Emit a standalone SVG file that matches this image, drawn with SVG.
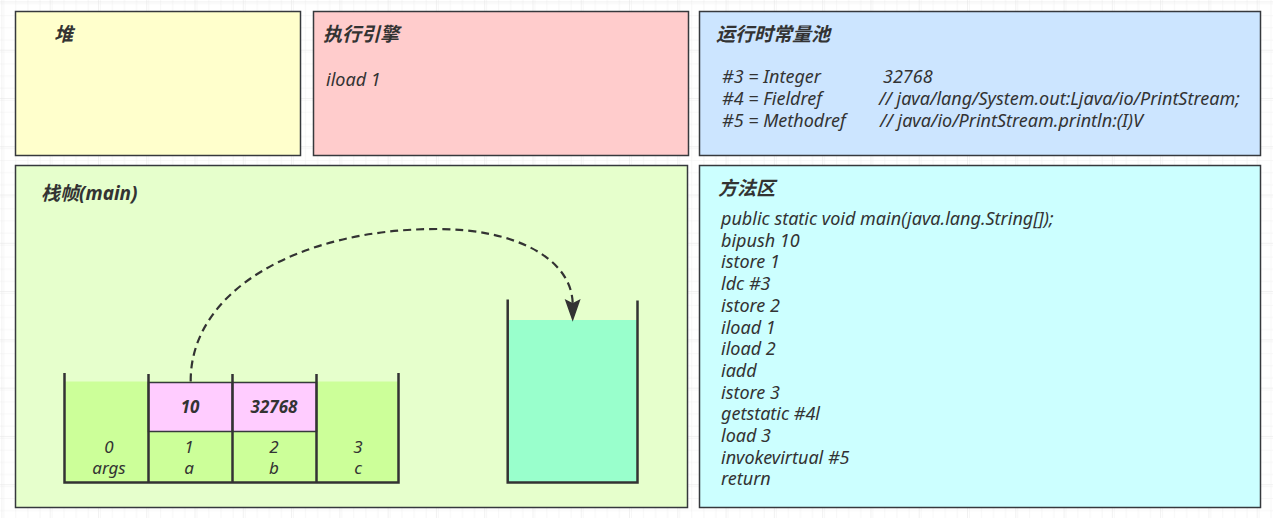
<svg xmlns="http://www.w3.org/2000/svg" width="1273" height="518" viewBox="0 0 1273 518">
<defs>
<pattern id="gMinor" patternUnits="userSpaceOnUse" x="1.9" y="1.9" width="12.07" height="12.07">
<path d="M 12.07 0 L 0 0 0 12.07" fill="none" stroke="#efefef" stroke-width="1"/>
</pattern>
<pattern id="gMajor" patternUnits="userSpaceOnUse" x="1.4" y="1.4" width="48.28" height="48.28">
<rect width="48.28" height="48.28" fill="url(#gMinor)"/>
<path d="M 48.28 0 L 0 0 0 48.28" fill="none" stroke="#e3e3e3" stroke-width="1"/>
</pattern>
</defs>
<style>
.box{stroke:#36393d;stroke-width:1.5}
.t{font-family:"Noto Sans","Open Sans","Noto Sans CJK SC",sans-serif;font-style:italic;fill:#333333;font-size:18px}
.s{font-family:"Noto Sans","Open Sans",sans-serif;font-style:italic;fill:#333333;font-size:17px}
.h{font-family:"Noto Sans","Noto Sans CJK SC",sans-serif;font-style:italic;font-weight:bold;fill:#333333;font-size:19px}
.b{font-family:"Noto Sans","Open Sans",sans-serif;font-style:italic;font-weight:bold;fill:#333333;font-size:17px}
.wall{stroke:#333333;stroke-width:2.5;fill:none}
.cell{fill:#ffccff;stroke:#36393d;stroke-width:1.5}
</style>
<rect width="1273" height="518" fill="#ffffff"/>
<rect width="1273" height="518" fill="url(#gMajor)"/>

<g id="heap">
<rect class="box" x="15.5" y="11.5" width="285" height="144" fill="#ffffcc"/>
<text class="h" x="54" y="41">堆</text>
</g>

<g id="engine">
<rect class="box" x="313.5" y="11.5" width="375" height="144" fill="#ffcccc"/>
<text class="h" x="323" y="41">执行引擎</text>
<text class="t" x="326" y="86">iload 1</text>
</g>

<g id="constant-pool">
<rect class="box" x="699.5" y="11.5" width="561" height="144" fill="#cce5ff"/>
<text class="h" x="716" y="41">运行时常量池</text>
<text class="t" x="722" y="83">#3 = Integer</text>
<text class="t" x="883" y="83">32768</text>
<text class="t" x="722" y="105">#4 = Fieldref</text>
<text class="t" x="879" y="105">// java/lang/System.out:Ljava/io/PrintStream;</text>
<text class="t" x="722" y="127">#5 = Methodref</text>
<text class="t" x="880" y="127">// java/io/PrintStream.println:(I)V</text>
</g>

<g id="stack-frame">
<rect class="box" x="15.5" y="165.5" width="672" height="342" fill="#e6ffcc"/>
<text class="h" x="41" y="200">栈帧(main)</text>
</g>

<g id="local-vars">
<rect x="64.5" y="381.5" width="334" height="101" fill="#ccff99"/>
<rect class="cell" x="148.5" y="382.5" width="84" height="49"/>
<rect class="cell" x="232.5" y="382.5" width="84" height="49"/>
<path class="wall" d="M 64.5 373 L 64.5 482.5 L 398.5 482.5 L 398.5 373"/>
<path class="wall" d="M 148.5 374 L 148.5 482.5 M 232.5 374 L 232.5 482.5 M 316.5 374 L 316.5 482.5"/>
<text class="b" x="190" y="413" text-anchor="middle">10</text>
<text class="b" x="274" y="413" text-anchor="middle">32768</text>
<g text-anchor="middle">
<text class="s" x="109" y="453">0<tspan x="109" dy="21">args</tspan></text>
<text class="s" x="189" y="453">1<tspan x="189" dy="21">a</tspan></text>
<text class="s" x="274" y="453">2<tspan x="274" dy="21">b</tspan></text>
<text class="s" x="358" y="453">3<tspan x="358" dy="21">c</tspan></text>
</g>
</g>

<g id="operand-stack">
<rect x="508" y="320" width="129.5" height="162" fill="#99ffcc"/>
<path class="wall" d="M 507.7 299.5 L 507.7 482.5 L 637.5 482.5 L 637.5 300.5"/>
</g>

<g id="method-area">
<rect class="box" x="699.5" y="165.5" width="561" height="342" fill="#ccffff"/>
<text class="h" x="718" y="195">方法区</text>
<text class="t" x="721" y="225">public static void main(java.lang.String[]);</text>
<text class="t" x="721" y="246.7">bipush 10</text>
<text class="t" x="721" y="268.4">istore 1</text>
<text class="t" x="721" y="290.1">ldc #3</text>
<text class="t" x="721" y="311.8">istore 2</text>
<text class="t" x="721" y="333.5">iload 1</text>
<text class="t" x="721" y="355.2">iload 2</text>
<text class="t" x="721" y="376.9">iadd</text>
<text class="t" x="721" y="398.6">istore 3</text>
<text class="t" x="721" y="420.3">getstatic #4l</text>
<text class="t" x="721" y="442">load 3</text>
<text class="t" x="721" y="463.7">invokevirtual #5</text>
<text class="t" x="721" y="485.4">return</text>
</g>

<g id="connectors">
<path d="M 190.7 381.5 C 190 290 300 229 437 229 C 515 229 571 258 572.7 303" fill="none" stroke="#333333" stroke-width="2.2" stroke-dasharray="8 5"/>
<path d="M 572.7 319.5 L 566 300.5 L 572.7 304 L 579.3 300.5 Z" fill="#333333" stroke="#333333" stroke-width="1.5" stroke-linejoin="miter"/>
</g>
</svg>
